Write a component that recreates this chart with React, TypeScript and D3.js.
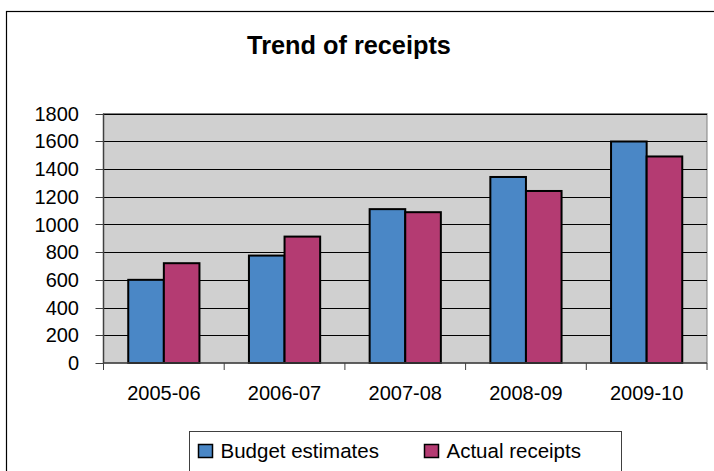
import React from "react";
import * as d3 from "d3";

const categories = ["2005-06", "2006-07", "2007-08", "2008-09", "2009-10"];
const budgetEstimates = [600, 775, 1110, 1342, 1598];
const actualReceipts = [720, 912, 1088, 1241, 1490];
const yTicks = [0, 200, 400, 600, 800, 1000, 1200, 1400, 1600, 1800];
const seriesNames = ["Budget estimates", "Actual receipts"];
const seriesColors = ["#4a87c6", "#b43b72"];

const W = 714;
const H = 471;
const plot = { left: 103.5, right: 707, top: 113.5, bottom: 363 };
const FONT = "'Liberation Sans', Arial, sans-serif";

export default function App() {
  const x = d3
    .scaleBand<string>()
    .domain(categories)
    .range([plot.left, plot.right])
    .paddingInner(0)
    .paddingOuter(0);
  const y = d3.scaleLinear().domain([0, 1800]).range([plot.bottom, plot.top]);
  const cw = x.bandwidth();
  const bw = cw * 0.295;
  const series = [budgetEstimates, actualReceipts];

  const boundaries = d3.range(categories.length + 1).map((i) => plot.left + i * cw);

  return (
    <div style={{ position: "fixed", left: 0, top: 0 }}>
      <svg width={W} height={H} style={{ display: "block", background: "#fff" }}>
        {/* chart border */}
        <rect x={6.5} y={11.5} width={800} height={600} fill="#fff" stroke="#000" strokeWidth={1.2} />
        {/* title */}
        <text x={349} y={54} textAnchor="middle" fontFamily={FONT} fontWeight="bold" fontSize={25.3} fill="#000">
          Trend of receipts
        </text>
        {/* plot background */}
        <rect
          x={plot.left}
          y={plot.top}
          width={plot.right - plot.left}
          height={plot.bottom - plot.top}
          fill="#d0d0d0"
          stroke="#808080"
          strokeWidth={1}
        />
        {/* gridlines */}
        {yTicks.slice(1).map((t) => (
          <line key={t} x1={plot.left} x2={plot.right} y1={Math.round(y(t)) + 0.5} y2={Math.round(y(t)) + 0.5} stroke="#000" strokeWidth={1} />
        ))}
        {/* bars */}
        {categories.map((c, i) => {
          const cx = (x(c) as number) + cw / 2;
          return series.map((s, si) => (
            <rect
              key={c + si}
              x={cx - bw + si * bw}
              y={y(s[i])}
              width={bw}
              height={plot.bottom - y(s[i])}
              fill={seriesColors[si]}
              stroke="#000"
              strokeWidth={2}
            />
          ));
        })}
        {/* y axis */}
        <line x1={plot.left} x2={plot.left} y1={plot.top} y2={plot.bottom} stroke="#404040" strokeWidth={1.5} />
        {yTicks.map((t) => (
          <g key={t}>
            <line x1={plot.left - 8} x2={plot.left} y1={Math.round(y(t)) + 0.5} y2={Math.round(y(t)) + 0.5} stroke="#404040" strokeWidth={1} />
            <text x={79} y={y(t)} dy="0.36em" textAnchor="end" fontFamily={FONT} fontSize={20} fill="#000">
              {t}
            </text>
          </g>
        ))}
        {/* x axis */}
        <line x1={plot.left} x2={plot.right} y1={plot.bottom} y2={plot.bottom} stroke="#404040" strokeWidth={1.5} />
        {boundaries.map((bx, i) => (
          <line key={i} x1={bx} x2={bx} y1={plot.bottom} y2={plot.bottom + 7} stroke="#404040" strokeWidth={1} />
        ))}
        {categories.map((c) => (
          <text key={c} x={(x(c) as number) + cw / 2} y={400} textAnchor="middle" fontFamily={FONT} fontSize={20} fill="#000">
            {c}
          </text>
        ))}
        {/* legend */}
        <rect x={189.5} y={431.5} width={432} height={60} fill="#fff" stroke="#404040" strokeWidth={1} />
        {seriesNames.map((n, i) => {
          const lx = i === 0 ? 198.5 : 424.5;
          return (
            <g key={n}>
              <rect x={lx} y={444.5} width={14} height={13} fill={seriesColors[i]} stroke="#000" strokeWidth={1.5} />
              <text x={lx + 22} y={458} fontFamily={FONT} fontSize={20.5} fill="#000">
                {n}
              </text>
            </g>
          );
        })}
      </svg>
    </div>
  );
}
